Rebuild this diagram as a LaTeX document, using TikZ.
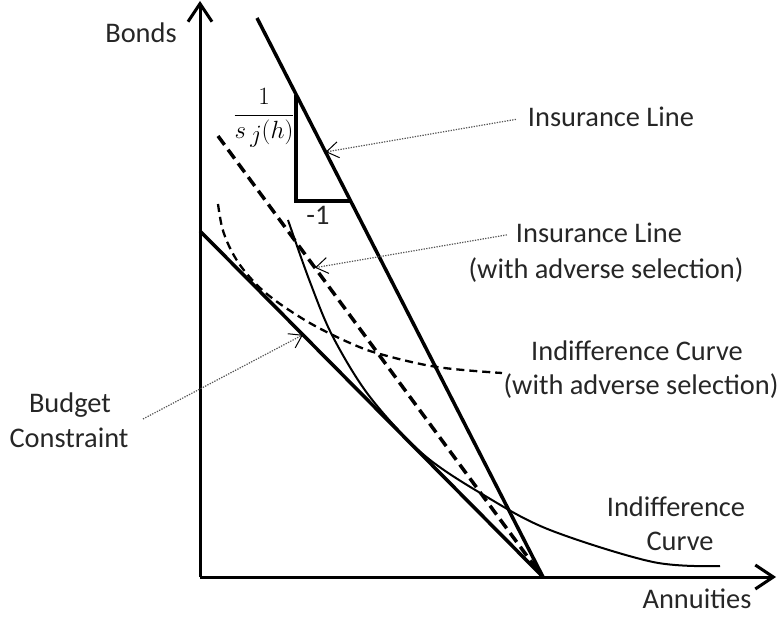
\documentclass[tikz,border=0pt]{standalone}
\usepackage{fontspec}
\setmainfont{Carlito}
\usetikzlibrary{arrows.meta}
\definecolor{txt}{HTML}{262626}
\definecolor{dotc}{HTML}{555555}
\begin{document}
\begin{tikzpicture}[x=1pt,y=-1pt,
  lbl/.style={text=txt, font=\fontsize{28.4}{34}\selectfont, inner sep=0pt, anchor=base},
  axisline/.style={line width=3pt, -{Straight Barb[length=18pt,width=24pt,line width=3pt]}},
  boldline/.style={line width=3.5pt},
  dashline/.style={line width=3.5pt, dash pattern=on 11pt off 6pt},
  thincurve/.style={line width=2pt},
  dashcurve/.style={line width=2.3pt, dash pattern=on 8pt off 5pt},
  note/.style={draw=dotc, line width=1.2pt, dash pattern=on 1.3pt off 1.3pt,
    -{Straight Barb[length=12pt,width=16pt,line width=1pt,color=black]}}
  ]
\useasboundingbox (0,0) rectangle (781,617);

% axes
\coordinate (O) at (200,577);
\coordinate (ytop) at (200,1);
\coordinate (xend) at (776,577);
\draw[axisline] (O) -- (ytop);
\draw[axisline] (O) -- (xend);

% insurance line
\coordinate (I1) at (257,18);
\coordinate (I2) at (543,577);
\draw[boldline] (I1) -- (I2);
\path (I1) -- (I2) coordinate[pos=0.2397] (pIns);

% slope triangle
\coordinate (T1) at (296,95);
\coordinate (T2) at (296,201);
\coordinate (T3) at (350,201);
\draw[boldline, line cap=butt] (T1) -- (T2) -- (T3);

% dashed insurance line (adverse selection)
\coordinate (A1) at (218,136);
\coordinate (A2) at (541,575);
\draw[dashline] (A1) -- (A2);
\path (A1) -- (A2) coordinate[pos=0.30] (pAdv);

% budget constraint
\coordinate (B1) at (200,231);
\coordinate (B2) at (543,577);
\draw[boldline] (B1) -- (B2);
\path (B1) -- (B2) coordinate[pos=0.30] (pBud);

% indifference curve
\draw[thincurve] plot[smooth, tension=0.55] coordinates {
  (288,220) (310,282) (333,337) (370,397) (424,455) (487,497)
  (550,530) (653,562) (720,566)};

% indifference curve with adverse selection
\draw[dashcurve] plot[smooth, tension=0.6] coordinates {
  (218,204) (222,227) (229,246) (240,265) (256,284) (272,298) (292,312)
  (317,327) (350,343) (380,354) (437,367) (502,373)};

% labels
\node[lbl] (bonds) at (141,43) {Bonds};
\node[lbl] (annu) at (697,608) {Annuities};
\node[lbl] (ins1) at (611,127) {Insurance Line};
\node[lbl] (ins2a) at (599,243) {Insurance Line};
\node[lbl] (ins2b) at (606,279) {(with adverse selection)};
\node[lbl] (ic2a) at (637,360) {Indifference Curve};
\node[lbl] (ic2b) at (641,394) {(with adverse selection)};
\node[lbl] (bc1) at (70,412) {Budget};
\node[lbl] (bc2) at (69,447) {Constraint};
\node[lbl] (ic1a) at (676,516) {Indifference};
\node[lbl] (ic1b) at (680,550) {Curve};
\node[lbl] (m1) at (318,225) {-1};
\node[inner sep=0pt, font=\fontsize{25}{30}\selectfont] (frac) at (264,118)
  {$\displaystyle\frac{1}{s\,\lower4pt\hbox{$j$}(h)}$};

% annotation pointers
\coordinate (bcStart) at (143,419);
\draw[note, shorten <=12pt] (ins1.west) -- (pIns);
\draw[note, shorten <=9pt] (ins2a.west) -- (pAdv);
\draw[note] (bcStart) -- (pBud);
\end{tikzpicture}
\end{document}
